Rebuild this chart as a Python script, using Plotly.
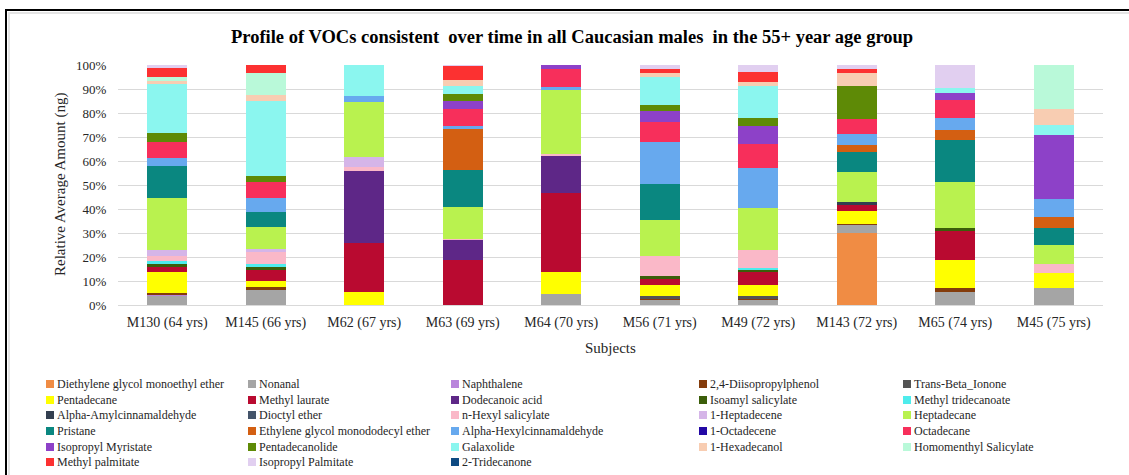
import plotly.graph_objects as go

# Subjects (x categories)
subjects = ["M130 (64 yrs)", "M145 (66 yrs)", "M62 (67 yrs)", "M63 (69 yrs)", "M64 (70 yrs)",
            "M56 (71 yrs)", "M49 (72 yrs)", "M143 (72 yrs)", "M65 (74 yrs)", "M45 (75 yrs)"]

# Relative amount (%) of each compound per subject, in subject order above
diethylene_glycol_monoethyl_ether = [0, 0, 0, 0, 0, 0, 0, 30.1, 0, 0]
nonanal = [3.9, 6.5, 0, 0, 4.6, 2.1, 2.1, 3.2, 5.6, 6.9]
naphthalene = [0.4, 0, 0, 0, 0, 0, 0, 0, 0, 0]
diisopropylphenol = [0.8, 0.8, 0, 0, 0, 0.7, 0.7, 0.6, 1.4, 0]
trans_beta_ionone = [0, 0, 0, 0, 0, 0.8, 0.8, 0, 0, 0]
pentadecane = [8.7, 2.5, 5.6, 0, 9.3, 4.9, 4.9, 5.4, 11.8, 6.5]
methyl_laurate = [2.0, 4.7, 20.1, 18.9, 32.6, 2.6, 5.1, 2.4, 12.2, 0]
dodecanoic_acid = [0, 0, 30.1, 8.2, 15.7, 0, 0, 0, 0, 0]
isoamyl_salicylate = [1.4, 1.5, 0, 0, 0, 0.8, 1.1, 0, 1.0, 0]
methyl_tridecanoate = [1.2, 1.0, 0, 0, 0, 0, 0.5, 0, 0, 0]
alpha_amylcinnamaldehyde = [0, 0, 0, 0, 0, 0, 0, 1.1, 0, 0]
dioctyl_ether = [0, 0, 0, 0, 0, 0, 0, 0, 0, 0]
n_hexyl_salicylate = [2.0, 4.9, 1.5, 0.5, 0.8, 8.3, 7.5, 0, 0, 3.5]
heptadecene_1 = [2.6, 1.5, 4.3, 0, 0, 0, 0, 0, 0, 0]
heptadecane = [21.5, 8.9, 23.1, 13.1, 26.4, 15.1, 17.5, 12.4, 19.4, 8.3]
pristane = [13.5, 6.3, 0, 15.6, 0, 15.0, 0, 8.3, 17.1, 6.7]
ethylene_glycol_monododecyl_ether = [0, 0, 0, 17.2, 0, 0, 0, 2.9, 4.3, 4.9]
alpha_hexylcinnamaldehyde = [3.0, 5.8, 2.2, 1.1, 1.4, 17.5, 16.7, 4.9, 5.1, 7.4]
octadecene_1 = [0, 0, 0, 0, 0, 0, 0, 0, 0, 0]
octadecane = [6.8, 6.9, 0, 7.1, 7.4, 8.3, 10.0, 6.0, 7.6, 0]
isopropyl_myristate = [0, 0, 0, 3.5, 1.8, 4.7, 7.5, 0, 2.9, 26.7]
pentadecanolide = [3.8, 2.4, 0, 2.9, 0, 2.5, 3.3, 14.0, 0, 0]
galaxolide = [20.5, 31.4, 13.1, 3.2, 0, 11.7, 13.5, 0, 1.9, 3.9]
hexadecanol_1 = [1.0, 2.4, 0, 2.5, 0, 1.7, 1.8, 5.4, 0, 6.9]
homomenthyl_salicylate = [1.8, 9.2, 0, 0, 0, 0, 0, 0, 0, 18.3]
methyl_palmitate = [3.6, 3.3, 0, 5.8, 0, 1.4, 4.0, 1.4, 0, 0]
isopropyl_palmitate = [1.4, 0, 0, 0.4, 0, 1.8, 2.9, 1.8, 9.6, 0]
tridecanone_2 = [0, 0, 0, 0, 0, 0, 0, 0, 0, 0]

# Stack order, bottom to top (also legend order, row by row)
series = [
    ("Diethylene glycol monoethyl ether", diethylene_glycol_monoethyl_ether),
    ("Nonanal", nonanal),
    ("Naphthalene", naphthalene),
    ("2,4-Diisopropylphenol", diisopropylphenol),
    ("Trans-Beta_Ionone", trans_beta_ionone),
    ("Pentadecane", pentadecane),
    ("Methyl laurate", methyl_laurate),
    ("Dodecanoic acid", dodecanoic_acid),
    ("Isoamyl salicylate", isoamyl_salicylate),
    ("Methyl tridecanoate", methyl_tridecanoate),
    ("Alpha-Amylcinnamaldehyde", alpha_amylcinnamaldehyde),
    ("Dioctyl ether", dioctyl_ether),
    ("n-Hexyl salicylate", n_hexyl_salicylate),
    ("1-Heptadecene", heptadecene_1),
    ("Heptadecane", heptadecane),
    ("Pristane", pristane),
    ("Ethylene glycol monododecyl ether", ethylene_glycol_monododecyl_ether),
    ("Alpha-Hexylcinnamaldehyde", alpha_hexylcinnamaldehyde),
    ("1-Octadecene", octadecene_1),
    ("Octadecane", octadecane),
    ("Isopropyl Myristate", isopropyl_myristate),
    ("Pentadecanolide", pentadecanolide),
    ("Galaxolide", galaxolide),
    ("1-Hexadecanol", hexadecanol_1),
    ("Homomenthyl Salicylate", homomenthyl_salicylate),
    ("Methyl palmitate", methyl_palmitate),
    ("Isopropyl Palmitate", isopropyl_palmitate),
    ("2-Tridecanone", tridecanone_2),
]

colors = [
    "#F08C44", "#A5A5A5", "#B985DC", "#843C0C", "#545454",
    "#FFFF00", "#B90A30", "#5E2787", "#3B5E0A", "#4EECEC",
    "#333F50", "#44546A", "#FAB8C8", "#D5B5E8", "#B9F24F",
    "#0A8780", "#D35F12", "#67A9EE", "#2308A5", "#F72F5B",
    "#8D41C8", "#5E8A06", "#8BF6EF", "#F8CDB2", "#B9F9D9",
    "#FC3131", "#E1CFF0", "#0E4A82",
]

W, H = 1129, 475
L, R, T, B = 118, 26, 65, 170
PW, PH = W - L - R, H - T - B
FONT = "Liberation Serif"
TXT = "#262626"


def px(xp):
    return (xp - L) / PW


def py(yp):
    return (T + PH - yp) / PH


fig = go.Figure()
for (name, vals), col in zip(series, colors):
    fig.add_trace(go.Bar(x=subjects, y=vals, name=name, marker_color=col,
                         marker_line_width=0, showlegend=False))

shapes = []
annotations = []

# Legend: five columns, filled row by row
col_x = [46, 248, 451, 699, 903]
row_y = [384, 400, 415, 431, 447, 462]
for i, ((name, _), col) in enumerate(zip(series, colors)):
    r, c = divmod(i, 5)
    x0, yc = col_x[c], row_y[r]
    shapes.append(dict(type="rect", xref="paper", yref="paper",
                       x0=px(x0), x1=px(x0 + 8), y0=py(yc + 4), y1=py(yc - 4),
                       fillcolor=col, line=dict(width=0)))
    annotations.append(dict(xref="paper", yref="paper", x=px(x0 + 8.5), y=py(yc),
                            xanchor="left", yanchor="middle", showarrow=False,
                            text=name, font=dict(family=FONT, size=12, color=TXT)))

# Chart area frame
shapes.append(dict(type="rect", xref="paper", yref="paper",
                   x0=px(9), x1=px(W + 10), y0=py(H + 10), y1=py(13),
                   line=dict(color="#E4E4E4", width=2), layer="below"))
shapes.append(dict(type="rect", xref="paper", yref="paper",
                   x0=px(6), x1=px(W + 10), y0=py(H + 10), y1=py(10),
                   line=dict(color="#000000", width=2), layer="below"))

# Title and axis titles
annotations.append(dict(xref="paper", yref="paper", x=px(572), y=py(37),
                        xanchor="center", yanchor="middle", showarrow=False,
                        text="<b>Profile of VOCs consistent  over time in all Caucasian males  in the 55+ year age group</b>",
                        font=dict(family=FONT, size=18.5, color="#000000")))
annotations.append(dict(xref="paper", yref="paper", x=px(610), y=py(348),
                        xanchor="center", yanchor="middle", showarrow=False,
                        text="Subjects", font=dict(family=FONT, size=15, color=TXT)))
annotations.append(dict(xref="paper", yref="paper", x=px(60), y=py(185),
                        xanchor="center", yanchor="middle", showarrow=False, textangle=-90,
                        text="Relative Average Amount (ng)", font=dict(family=FONT, size=15, color=TXT)))

fig.update_layout(
    width=W, height=H,
    margin=dict(l=L, r=R, t=T, b=B, autoexpand=False),
    paper_bgcolor="white", plot_bgcolor="white",
    barmode="stack", barnorm="percent", bargap=0.59,
    font=dict(family=FONT, size=12, color=TXT),
    showlegend=False,
    shapes=shapes, annotations=annotations,
)
fig.update_xaxes(showline=True, linecolor="#D9D9D9", linewidth=1,
                 ticks="outside", ticklen=4, tickcolor="rgba(0,0,0,0)",
                 tickfont=dict(family=FONT, size=14, color=TXT), showgrid=False)
fig.update_yaxes(range=[0, 100], dtick=10, ticksuffix="%", showgrid=True,
                 gridcolor="#D9D9D9", gridwidth=1, zeroline=False, showline=False,
                 ticks="outside", ticklen=8, tickcolor="rgba(0,0,0,0)",
                 tickfont=dict(family=FONT, size=13, color=TXT))

fig.write_html("out.html")
